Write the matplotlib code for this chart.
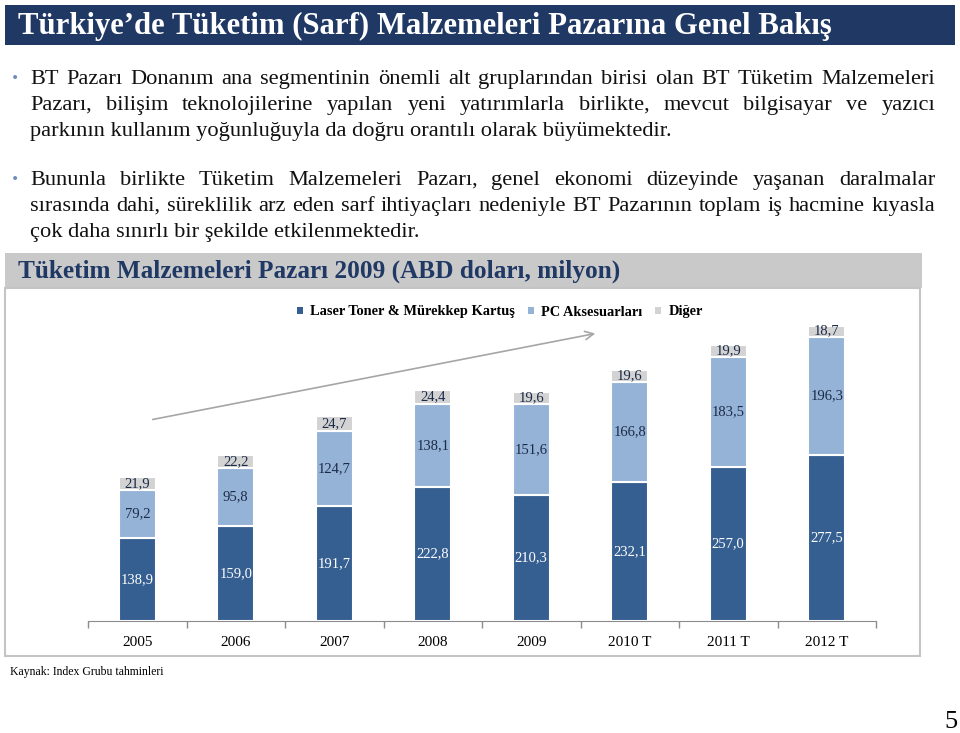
import matplotlib
matplotlib.use("Agg")
import matplotlib.pyplot as plt
from matplotlib.patches import Rectangle

# ---- data ----
years = ["2005", "2006", "2007", "2008", "2009", "2010 T", "2011 T", "2012 T"]
laser = [138.9, 159.0, 191.7, 222.8, 210.3, 232.1, 257.0, 277.5]
pc_aks = [79.2, 95.8, 124.7, 138.1, 151.6, 166.8, 183.5, 196.3]
diger = [21.9, 22.2, 24.7, 24.4, 19.6, 19.6, 19.9, 18.7]
series_names = ["Laser Toner & Mürekkep Kartuş", "PC Aksesuarları", "Diğer"]

W, H = 960, 733
SERIF = "Liberation Serif"
NAVY = "#1F3864"
DARK = "#365F91"
LIGHT = "#95B3D7"
GREY = "#D3D3D3"
TXT = "#1B2A47"

fig = plt.figure(figsize=(W / 100, H / 100), dpi=100)
renderer = fig.canvas.get_renderer()


def fx(x):
    return x / W


def fy(y):
    return 1 - y / H


def fit_width(t, target):
    w = t.get_window_extent(renderer).width
    t.set_fontsize(t.get_fontsize() * target / w)


def justified(words, x0, x1, y, **kw):
    texts = [fig.text(fx(x0), fy(y), w, va="baseline", ha="left", **kw) for w in words]
    widths = [t.get_window_extent(renderer).width for t in texts]
    gap = (x1 - x0 - sum(widths)) / (len(words) - 1)
    x = x0
    for t, w in zip(texts, widths):
        t.set_x(fx(x))
        x += w + gap


# ---- header bar ----
fig.patches.append(Rectangle((fx(5), fy(45)), fx(950), 40 / H, transform=fig.transFigure,
                             facecolor=NAVY, edgecolor="none", zorder=-2))
t = fig.text(fx(18), fy(26), "Türkiye’de Tüketim (Sarf) Malzemeleri Pazarına Genel Bakış",
             color="white", fontfamily=SERIF, fontweight="bold", fontsize=22, va="center")
fit_width(t, 817)

# ---- bullet text ----
body = dict(fontfamily=SERIF, fontsize=16.1, color="#111111")
lines = [
    ("BT Pazarı Donanım ana segmentinin önemli alt gruplarından birisi olan BT Tüketim Malzemeleri", 84, True),
    ("Pazarı, bilişim teknolojilerine yapılan yeni yatırımlarla birlikte, mevcut bilgisayar ve yazıcı", 110, True),
    ("parkının kullanım yoğunluğuyla da doğru orantılı olarak büyümektedir.", 136, False),
    ("Bununla birlikte Tüketim Malzemeleri Pazarı, genel ekonomi düzeyinde yaşanan daralmalar", 185, True),
    ("sırasında dahi, süreklilik arz eden sarf ihtiyaçları nedeniyle BT Pazarının toplam iş hacmine kıyasla", 211, True),
    ("çok daha sınırlı bir şekilde etkilenmektedir.", 237, False),
]
for text, y, just in lines:
    if just:
        justified(text.split(" "), 30, 935, y, **body)
    else:
        fig.text(fx(30), fy(y), text, va="baseline", **body)
for y in (78, 179):
    fig.text(fx(15), fy(y), "•", color="#6F8DB8", fontsize=10, va="center", ha="center")

# ---- chart panel ----
fig.patches.append(Rectangle((fx(5), fy(288)), fx(917), 35 / H, transform=fig.transFigure,
                             facecolor="#C9C9C9", edgecolor="none", zorder=-2))
fig.patches.append(Rectangle((fx(5), fy(656)), fx(915), 368 / H, transform=fig.transFigure,
                             facecolor="white", edgecolor="#C4C4C4", linewidth=1.5, zorder=-2))
t = fig.text(fx(18), fy(271), "Tüketim Malzemeleri Pazarı 2009 (ABD doları, milyon)",
             color=NAVY, fontfamily=SERIF, fontweight="bold", fontsize=18, va="center")
fit_width(t, 600)

ax = fig.add_axes([fx(88), fy(621), 788 / W, 318 / H])
ax.patch.set_alpha(0)
x = list(range(len(years)))
bw = 0.38
bottom2 = [a + b for a, b in zip(laser, pc_aks)]
b1 = ax.bar(x, laser, bw, color=DARK, edgecolor="white", linewidth=1.5, label=series_names[0])
b2 = ax.bar(x, pc_aks, bw, bottom=laser, color=LIGHT, edgecolor="white", linewidth=1.5,
            label=series_names[1])
b3 = ax.bar(x, diger, bw, bottom=bottom2, color=GREY, edgecolor="white", linewidth=1.5,
            label=series_names[2])


def fmt(v):
    return f"{v:.1f}".replace(".", ",")


for bars, col in ((b1, "white"), (b2, TXT), (b3, TXT)):
    for rect in bars:
        h = rect.get_height()
        ax.text(rect.get_x() + rect.get_width() / 2, rect.get_y() + h / 2, fmt(h),
                ha="center", va="center", color=col, fontfamily=SERIF, fontsize=10.5)

ax.set_xlim(-0.5, len(years) - 0.5)
ax.set_ylim(0, 530)
ax.set_xticks(x)
ax.set_xticklabels(years, fontfamily=SERIF, fontsize=11)
ax.tick_params(axis="x", which="major", length=0, pad=11)
ax.set_xticks([i - 0.5 for i in range(len(years) + 1)], minor=True)
ax.tick_params(axis="x", which="minor", length=5, color="#8C8C8C", width=1)
ax.set_yticks([])
for s in ("top", "right", "left"):
    ax.spines[s].set_visible(False)
ax.spines["bottom"].set_color("#8C8C8C")

leg = ax.legend(handles=[b1, b2, b3], loc="center", bbox_to_anchor=(fx(500), fy(312)),
                bbox_transform=fig.transFigure, ncol=3, frameon=False,
                handlelength=0.4, handleheight=0.4, handletextpad=0.5, columnspacing=0.9,
                prop={"family": SERIF, "weight": "bold", "size": 10.4})
for h in leg.legend_handles:
    h.set_edgecolor("none")

# growth arrow
ax.annotate("", xy=(598, H - 333), xytext=(150, H - 420), xycoords="figure pixels",
            textcoords="figure pixels",
            arrowprops=dict(arrowstyle="->,head_length=0.6,head_width=0.3",
                            color="#A6A6A6", lw=1.2))

# ---- footer ----
fig.text(fx(10), fy(672), "Kaynak: Index Grubu tahminleri", fontfamily=SERIF, fontsize=8.5,
         va="center")
fig.text(fx(958), fy(722), "5", fontfamily=SERIF, fontsize=19, va="center", ha="right")

fig.savefig("out.png", dpi=100)
